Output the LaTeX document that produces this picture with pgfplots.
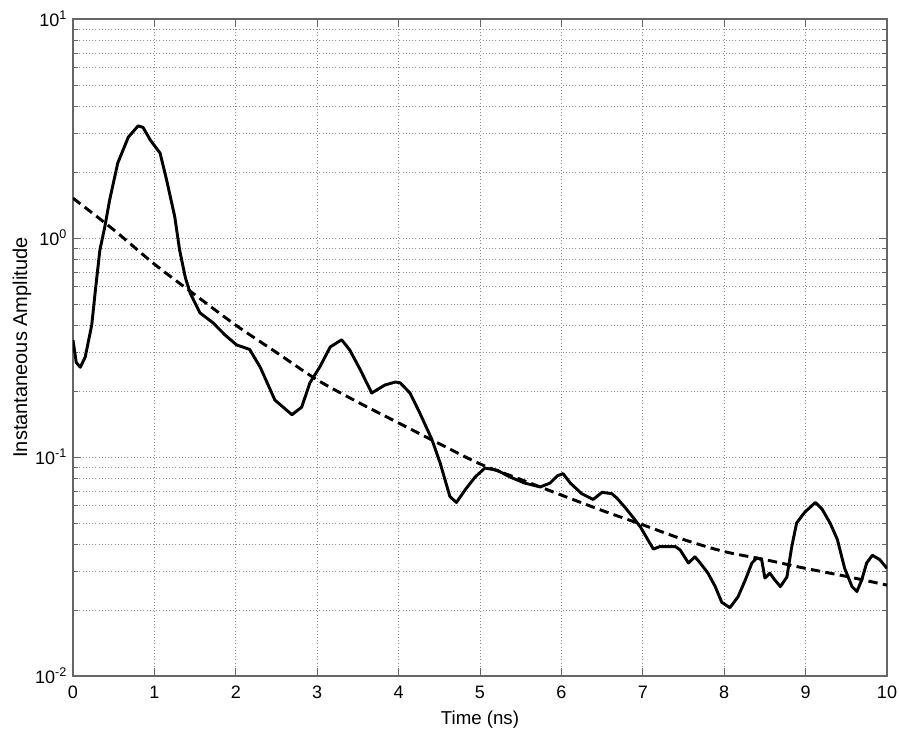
\documentclass[border=0pt]{standalone}
\usepackage{pgfplots}
\pgfplotsset{compat=1.18}
\usepackage{fontspec}
\setmainfont{Liberation Sans}

% measured amplitude (solid) and fitted decay (dashed)
\pgfplotstableread{
x y
0.00 0.342
0.04 0.270
0.09 0.257
0.15 0.286
0.23 0.400
0.28 0.600
0.33 0.880
0.39 1.12
0.45 1.49
0.55 2.20
0.68 2.89
0.80 3.25
0.86 3.20
0.95 2.80
1.07 2.44
1.15 1.84
1.25 1.25
1.31 0.880
1.38 0.660
1.44 0.560
1.56 0.455
1.72 0.410
1.87 0.360
2.01 0.325
2.17 0.310
2.30 0.257
2.48 0.182
2.69 0.156
2.81 0.169
2.91 0.218
3.03 0.257
3.16 0.318
3.30 0.343
3.40 0.308
3.53 0.250
3.67 0.196
3.83 0.213
3.96 0.220
4.02 0.218
4.14 0.196
4.26 0.159
4.41 0.120
4.51 0.094
4.63 0.066
4.71 0.062
4.82 0.071
4.94 0.081
5.06 0.089
5.21 0.087
5.37 0.081
5.55 0.076
5.74 0.073
5.86 0.076
5.95 0.082
6.02 0.084
6.11 0.076
6.25 0.068
6.39 0.064
6.50 0.069
6.62 0.068
6.68 0.065
6.78 0.059
6.88 0.053
6.97 0.048
7.06 0.042
7.13 0.038
7.21 0.039
7.40 0.039
7.46 0.0376
7.56 0.0328
7.64 0.0350
7.70 0.0330
7.80 0.0295
7.89 0.0256
7.97 0.0217
8.07 0.0205
8.17 0.0230
8.26 0.0275
8.34 0.0328
8.40 0.0346
8.46 0.0340
8.50 0.0280
8.56 0.0295
8.62 0.0275
8.69 0.0256
8.77 0.0283
8.83 0.0390
8.89 0.0500
8.99 0.0560
9.12 0.0620
9.20 0.0580
9.30 0.0500
9.39 0.0420
9.48 0.0310
9.57 0.0256
9.63 0.0243
9.69 0.0275
9.75 0.0328
9.82 0.0356
9.91 0.0340
10.0 0.0310
}\measured

\pgfplotstableread{
x y
0.0 1.52
0.5 1.09
1.0 0.76
1.5 0.55
2.0 0.40
2.5 0.30
3.0 0.225
3.5 0.178
4.0 0.143
4.5 0.115
5.0 0.093
5.5 0.079
6.0 0.067
6.5 0.057
7.0 0.049
7.5 0.042
8.0 0.037
8.5 0.034
9.0 0.031
9.5 0.0285
10.0 0.026
}\fitted

\begin{document}
\begin{tikzpicture}
\begin{axis}[
  at={(0,0)}, anchor=south west,
  scale only axis,
  width=610.5pt, height=492.75pt,
  ymode=log,
  xmin=0, xmax=10,
  ymin=0.01, ymax=10,
  xtick={0,1,...,10},
  ytick={0.01,0.1,1,10},
  yticklabels={10\textsuperscript{-2},10\textsuperscript{-1},10\textsuperscript{0},10\textsuperscript{1}},
  /pgf/number format/assume math mode=true,
  tick label style={font=\fontsize{13.5}{15}\selectfont},
  xticklabel style={yshift=-4pt},
  yticklabel style={xshift=-1pt},
  xlabel={Time (ns)},
  ylabel={Instantaneous Amplitude},
  xlabel style={font=\fontsize{14}{16}\selectfont, yshift=-2pt},
  ylabel style={font=\fontsize{15}{17}\selectfont, yshift=-4pt},
  tick align=inside,
  major tick length=6pt,
  minor tick length=3.5pt,
  axis line style={draw=black!60, line width=0.8pt},
  every tick/.style={black!60, line width=0.6pt},
  xmajorgrids, ymajorgrids, yminorgrids,
  major grid style={dotted, black!45, line width=0.5pt},
  minor grid style={dotted, black!45, line width=0.5pt},
]
\addplot[black, line width=2.2pt, line join=round] table {\measured};
\addplot[black, line width=2.2pt, dash pattern=on 7pt off 4pt, smooth] table {\fitted};
\end{axis}
\pgfresetboundingbox
\path (-54.75pt,-40.5pt) rectangle (619.5pt,507pt);
\end{tikzpicture}
\end{document}
